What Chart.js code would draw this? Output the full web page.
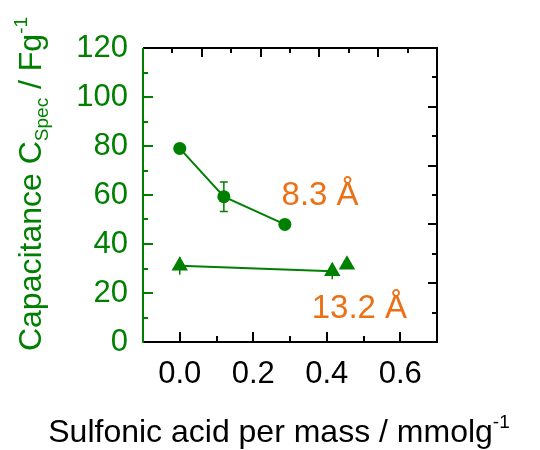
<!DOCTYPE html>
<html>
<head>
<meta charset="utf-8">
<script src="https://cdn.jsdelivr.net/npm/chart.js@4/dist/chart.umd.min.js"></script>
<style>
    html, body { margin: 0; padding: 0; background: #fff; }
    #wrap { width: 540px; height: 450px; }
</style>
</head>
<body>
<div id="wrap"><canvas id="chart" width="540" height="450"></canvas></div>
<script>
// data
const circleX = [0.0, 0.12, 0.286];
const circleY = [79, 59.3, 48];
const circleErr = [0, 6, 0];

const triangleX = [0.0, 0.415, 0.455];
const triangleY = [31.1, 28.9, 31.5];
const triangleErr = [3.6, 3.3, 0];

const xTickLabels = ['0.0', '0.2', '0.4', '0.6'];
const yTickLabels = ['0', '20', '40', '60', '80', '100', '120'];

const GREEN = '#008000';
const ORANGE = '#EB7117';
const FONT = "'Liberation Sans', Arial, sans-serif";

const toPoints = (xs, ys) => xs.map((x, i) => ({ x: x, y: ys[i] }));

// text with sub/superscript pieces
function drawRich(ctx, parts, cx, cy, rotate) {
    ctx.save();
    ctx.translate(cx, cy);
    if (rotate) ctx.rotate(-Math.PI / 2);
    let total = 0;
    parts.forEach(p => {
        ctx.font = p.size + 'px ' + FONT;
        p.w = ctx.measureText(p.text).width;
        total += p.w;
    });
    let x = -total / 2;
    ctx.textBaseline = 'alphabetic';
    ctx.textAlign = 'left';
    parts.forEach(p => {
        ctx.font = p.size + 'px ' + FONT;
        ctx.fillStyle = p.color;
        ctx.fillText(p.text, x, p.dy || 0);
        x += p.w;
    });
    ctx.restore();
}

const framePlugin = {
    id: 'frame',
    beforeDatasetsDraw(chart) {
        const ctx = chart.ctx;
        const xs = chart.scales.x, ys = chart.scales.y;
        // error bars, under the markers
        const drawErr = (xv, yv, ev, cap) => {
            ctx.save();
            ctx.strokeStyle = GREEN;
            ctx.lineWidth = 1.5;
            xv.forEach((x, i) => {
                if (!ev[i]) return;
                const px = xs.getPixelForValue(x);
                const top = ys.getPixelForValue(yv[i] + ev[i]);
                const bot = ys.getPixelForValue(yv[i] - ev[i]);
                ctx.beginPath();
                ctx.moveTo(px, top); ctx.lineTo(px, bot);
                if (cap) {
                    ctx.moveTo(px - cap, top); ctx.lineTo(px + cap, top);
                    ctx.moveTo(px - cap, bot); ctx.lineTo(px + cap, bot);
                }
                ctx.stroke();
            });
            ctx.restore();
        };
        drawErr(circleX, circleY, circleErr, 4);
        drawErr(triangleX, triangleY, triangleErr, 0);
    },
    afterDraw(chart) {
        const ctx = chart.ctx;
        const a = chart.chartArea;
        const xs = chart.scales.x, ys = chart.scales.y;
        const x2 = chart.scales.x2, y2 = chart.scales.y2;
        ctx.save();
        ctx.lineWidth = 2;
        ctx.strokeStyle = '#000';
        ctx.beginPath();
        ctx.moveTo(a.left, a.top); ctx.lineTo(a.right, a.top);
        ctx.lineTo(a.right, a.bottom); ctx.lineTo(a.left, a.bottom);
        ctx.stroke();
        // bottom ticks
        for (let v = 0; v <= 0.6001; v += 0.1) {
            const px = Math.round(xs.getPixelForValue(v));
            const major = Math.round(v * 10) % 2 === 0;
            ctx.beginPath();
            ctx.moveTo(px, a.bottom); ctx.lineTo(px, a.bottom - (major ? 10 : 6));
            ctx.stroke();
        }
        // top ticks
        for (let v = 10; v < 100; v += 10) {
            const px = Math.round(x2.getPixelForValue(v));
            const major = v % 20 === 0;
            ctx.beginPath();
            ctx.moveTo(px, a.top); ctx.lineTo(px, a.top + (major ? 9 : 5));
            ctx.stroke();
        }
        // right ticks
        for (let v = 10; v < 100; v += 10) {
            const py = Math.round(y2.getPixelForValue(v));
            const major = v % 20 === 0;
            ctx.beginPath();
            ctx.moveTo(a.right, py); ctx.lineTo(a.right - (major ? 9 : 5), py);
            ctx.stroke();
        }
        // left axis, green
        ctx.strokeStyle = GREEN;
        ctx.beginPath();
        ctx.moveTo(a.left, a.top); ctx.lineTo(a.left, a.bottom + 1);
        ctx.stroke();
        for (let v = 10; v < 120; v += 10) {
            const py = Math.round(ys.getPixelForValue(v));
            const major = v % 20 === 0;
            ctx.beginPath();
            ctx.moveTo(a.left, py); ctx.lineTo(a.left + (major ? 10 : 5), py);
            ctx.stroke();
        }

        // annotations
        ctx.fillStyle = ORANGE;
        ctx.font = '33px ' + FONT;
        ctx.textAlign = 'left';
        ctx.textBaseline = 'alphabetic';
        ctx.fillText('8.3 Å', xs.getPixelForValue(0.277), ys.getPixelForValue(55.9));
        ctx.fillText('13.2 Å', xs.getPixelForValue(0.359), ys.getPixelForValue(9.8));
        ctx.restore();

        // axis titles
        drawRich(ctx, [
            { text: 'Sulfonic acid per mass / mmolg', size: 32, color: '#000' },
            { text: '-1', size: 19, color: '#000', dy: -14 }
        ], 279, 442, false);
        drawRich(ctx, [
            { text: 'Capacitance C', size: 32, color: GREEN },
            { text: 'Spec', size: 19, color: GREEN, dy: 7 },
            { text: ' / Fg', size: 32, color: GREEN },
            { text: '-1', size: 19, color: GREEN, dy: -14 }
        ], 41, 184, true);
    }
};

const config = {
    type: 'scatter',
    data: {
        datasets: [
            {
                label: '8.3 Å',
                data: toPoints(circleX, circleY),
                showLine: true,
                borderColor: GREEN,
                backgroundColor: GREEN,
                borderWidth: 2,
                pointStyle: 'circle',
                pointRadius: 6.5,
                pointBorderWidth: 0
            },
            {
                label: '13.2 Å',
                data: toPoints(triangleX, triangleY),
                showLine: true,
                borderColor: GREEN,
                backgroundColor: GREEN,
                borderWidth: 2,
                segment: {
                    borderColor: (c) => c.p1DataIndex === 2 ? 'rgba(0,0,0,0)' : GREEN
                },
                pointStyle: 'triangle',
                pointRadius: 9.5,
                pointBorderWidth: 0
            }
        ]
    },
    options: {
        responsive: false,
        animation: false,
        devicePixelRatio: 1,
        layout: {
            padding: { left: 0, top: 48, right: 103, bottom: 0 }
        },
        plugins: {
            legend: { display: false },
            tooltip: { enabled: false }
        },
        scales: {
            x: {
                type: 'linear',
                position: 'bottom',
                min: -0.1,
                max: 0.7,
                afterFit: (s) => { s.height = 108; },
                grid: { display: false, drawTicks: false },
                border: { display: false },
                ticks: {
                    stepSize: 0.1,
                    padding: 14,
                    color: '#000',
                    font: { family: FONT, size: 31 },
                    maxRotation: 0,
                    autoSkip: false,
                    callback: (v) => {
                        const lbl = (Math.round(v * 10) / 10).toFixed(1);
                        return xTickLabels.includes(lbl) ? lbl : '';
                    }
                }
            },
            y: {
                type: 'linear',
                position: 'left',
                min: 0,
                max: 120,
                afterFit: (s) => { s.width = 143; },
                grid: { display: false, drawTicks: false },
                border: { display: false },
                ticks: {
                    stepSize: 10,
                    padding: 15,
                    color: GREEN,
                    font: { family: FONT, size: 31 },
                    autoSkip: false,
                    callback: (v) => yTickLabels.includes(String(v)) ? String(v) : ''
                }
            },
            x2: {
                type: 'linear',
                position: 'top',
                min: 0,
                max: 100,
                display: false
            },
            y2: {
                type: 'linear',
                position: 'right',
                min: 0,
                max: 100,
                display: false
            }
        }
    },
    plugins: [framePlugin]
};

new Chart(document.getElementById('chart').getContext('2d'), config);
</script>
</body>
</html>
